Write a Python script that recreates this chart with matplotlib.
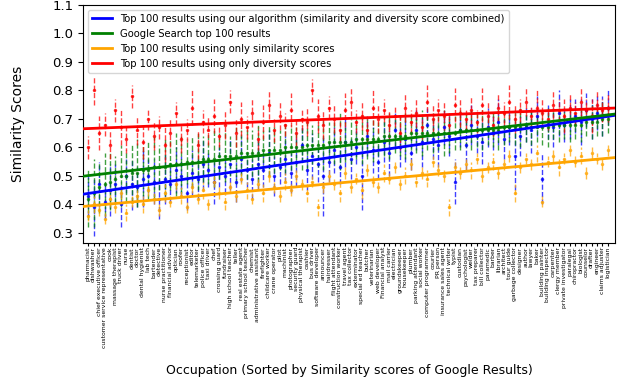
import matplotlib
matplotlib.use("Agg")

import matplotlib.pyplot as plt
import numpy as np

OCCUPATIONS = [
    "pharmacist", "dishwasher", "chief executive officer", "customer service representative",
    "cook", "massage therapist", "truck driver", "nurse", "dentist", "doctor",
    "dental hygienist", "lab tech", "bartender", "detective", "nurse practitioner",
    "financial advisor", "optician", "roofer", "receptionist", "editor",
    "telemarketer", "police officer", "taxi driver", "chef", "crossing guard",
    "fundraiser", "high school teacher", "teller", "real estate agent",
    "primary school teacher", "chemist", "administrative assistant", "firefighter",
    "childcare worker", "crane operator", "pilot", "machinist", "photographer",
    "security guard", "physical therapist", "cashier", "bus driver",
    "software developer", "announcer", "hairdresser", "flight attendant",
    "construction worker", "travel agent", "tax collector", "exterminator",
    "special ed teacher", "butcher", "veterinarian", "web developer",
    "Financial analyst", "mail carrier", "electrician", "groundskeeper",
    "housekeeper", "plumber", "parking attendant", "social worker",
    "computer programmer", "courier", "PR person", "insurance sales agent",
    "technical writer", "typist", "custodian", "psychologist", "welder",
    "tax preparer", "bill collector", "paramedic", "barber", "librarian",
    "architect", "tour guide", "garbage collector", "designer", "author",
    "lawyer", "baker", "building painter", "building inspector", "carpenter",
    "clergy member", "private investigator", "paralegal", "chiropractor",
    "biologist", "counselor", "drafter", "engineer", "claims adjuster",
    "logistician",
]

# mean score per occupation, one list per method
OURS_MEAN = [
    0.43, 0.39, 0.47, 0.41, 0.45, 0.47, 0.40, 0.50, 0.47, 0.46,
    0.49, 0.50, 0.48, 0.42, 0.49, 0.47, 0.52, 0.50, 0.44, 0.51,
    0.49, 0.54, 0.52, 0.48, 0.53, 0.50, 0.54, 0.48, 0.56, 0.52,
    0.49, 0.54, 0.52, 0.58, 0.50, 0.53, 0.56, 0.51, 0.55, 0.61,
    0.52, 0.57, 0.54, 0.50, 0.55, 0.59, 0.53, 0.62, 0.56, 0.60,
    0.50, 0.64, 0.59, 0.55, 0.62, 0.58, 0.66, 0.60, 0.63, 0.58,
    0.66, 0.62, 0.68, 0.63, 0.61, 0.67, 0.64, 0.48, 0.66, 0.61,
    0.68, 0.64, 0.62, 0.67, 0.65, 0.69, 0.63, 0.67, 0.57, 0.64,
    0.68, 0.66, 0.71, 0.49, 0.69, 0.67, 0.72, 0.68, 0.70, 0.71,
    0.69, 0.73, 0.70, 0.72, 0.71, 0.74,
]
OURS_ERR = [
    0.07, 0.10, 0.08, 0.06, 0.09, 0.07, 0.08, 0.06, 0.09, 0.07,
    0.10, 0.06, 0.08, 0.07, 0.09, 0.06, 0.08, 0.07, 0.06, 0.08,
    0.07, 0.09, 0.06, 0.08, 0.07, 0.06, 0.09, 0.07, 0.08, 0.06,
    0.07, 0.09, 0.06, 0.08, 0.07, 0.06, 0.08, 0.07, 0.09, 0.06,
    0.07, 0.08, 0.06, 0.14, 0.07, 0.08, 0.06, 0.09, 0.07, 0.06,
    0.12, 0.07, 0.08, 0.06, 0.07, 0.08, 0.06, 0.07, 0.08, 0.06,
    0.07, 0.09, 0.06, 0.07, 0.08, 0.06, 0.07, 0.08, 0.06, 0.09,
    0.07, 0.06, 0.08, 0.07, 0.06, 0.08, 0.07, 0.06, 0.12, 0.07,
    0.06, 0.08, 0.07, 0.09, 0.06, 0.07, 0.08, 0.06, 0.07, 0.06,
    0.08, 0.06, 0.07, 0.06, 0.07, 0.06,
]

GOOGLE_MEAN = [
    0.42, 0.44, 0.46, 0.47, 0.48, 0.49, 0.50, 0.50, 0.51, 0.51,
    0.52, 0.52, 0.53, 0.53, 0.53, 0.54, 0.54, 0.54, 0.55, 0.55,
    0.55, 0.56, 0.56, 0.56, 0.57, 0.57, 0.57, 0.57, 0.58, 0.58,
    0.58, 0.58, 0.59, 0.59, 0.59, 0.59, 0.60, 0.60, 0.60, 0.60,
    0.61, 0.61, 0.61, 0.61, 0.62, 0.62, 0.62, 0.62, 0.62, 0.63,
    0.63, 0.63, 0.63, 0.63, 0.64, 0.64, 0.64, 0.64, 0.64, 0.65,
    0.65, 0.65, 0.65, 0.65, 0.65, 0.65, 0.65, 0.65, 0.66, 0.66,
    0.66, 0.66, 0.66, 0.66, 0.66, 0.66, 0.67, 0.67, 0.67, 0.67,
    0.67, 0.67, 0.67, 0.67, 0.67, 0.68, 0.68, 0.68, 0.68, 0.68,
    0.68, 0.69, 0.69, 0.69, 0.70, 0.70,
]
GOOGLE_ERR = [
    0.10, 0.12, 0.09, 0.11, 0.10, 0.08, 0.11, 0.09, 0.10, 0.12,
    0.09, 0.10, 0.11, 0.08, 0.10, 0.09, 0.11, 0.10, 0.08, 0.09,
    0.10, 0.08, 0.09, 0.10, 0.08, 0.09, 0.07, 0.10, 0.08, 0.09,
    0.08, 0.10, 0.07, 0.09, 0.08, 0.07, 0.09, 0.08, 0.07, 0.08,
    0.09, 0.07, 0.08, 0.09, 0.07, 0.08, 0.10, 0.07, 0.08, 0.07,
    0.09, 0.07, 0.08, 0.06, 0.07, 0.08, 0.06, 0.07, 0.08, 0.06,
    0.07, 0.08, 0.06, 0.07, 0.06, 0.08, 0.07, 0.06, 0.07, 0.06,
    0.07, 0.06, 0.07, 0.05, 0.06, 0.07, 0.06, 0.05, 0.06, 0.07,
    0.05, 0.06, 0.05, 0.06, 0.07, 0.05, 0.06, 0.05, 0.06, 0.05,
    0.06, 0.05, 0.06, 0.05, 0.06, 0.05,
]

SIM_MEAN = [
    0.36, 0.40, 0.38, 0.35, 0.42, 0.39, 0.44, 0.37, 0.41, 0.43,
    0.40, 0.45, 0.42, 0.38, 0.44, 0.41, 0.47, 0.43, 0.39, 0.46,
    0.42, 0.45, 0.40, 0.48, 0.44, 0.41, 0.46, 0.43, 0.49, 0.45,
    0.42, 0.47, 0.44, 0.50, 0.46, 0.43, 0.48, 0.45, 0.50, 0.47,
    0.44, 0.48, 0.39, 0.46, 0.50, 0.47, 0.44, 0.51, 0.46, 0.49,
    0.45, 0.52, 0.48, 0.46, 0.51, 0.49, 0.53, 0.47, 0.50, 0.54,
    0.48, 0.51, 0.49, 0.55, 0.52, 0.50, 0.39, 0.53, 0.51, 0.54,
    0.52, 0.56, 0.50, 0.53, 0.55, 0.51, 0.54, 0.57, 0.44, 0.53,
    0.56, 0.54, 0.58, 0.41, 0.55, 0.57, 0.53, 0.56, 0.59, 0.55,
    0.57, 0.51, 0.58, 0.56, 0.54, 0.59,
]
SIM_ERR = [
    0.02, 0.03, 0.02, 0.02, 0.03, 0.02, 0.02, 0.03, 0.02, 0.02,
    0.03, 0.02, 0.02, 0.02, 0.03, 0.02, 0.02, 0.03, 0.02, 0.02,
    0.02, 0.03, 0.02, 0.02, 0.02, 0.03, 0.02, 0.02, 0.02, 0.03,
    0.02, 0.02, 0.03, 0.02, 0.02, 0.02, 0.03, 0.02, 0.02, 0.02,
    0.03, 0.02, 0.03, 0.02, 0.02, 0.02, 0.03, 0.02, 0.02, 0.02,
    0.03, 0.02, 0.02, 0.02, 0.03, 0.02, 0.02, 0.02, 0.03, 0.02,
    0.02, 0.02, 0.03, 0.02, 0.02, 0.02, 0.03, 0.02, 0.02, 0.02,
    0.03, 0.02, 0.02, 0.02, 0.03, 0.02, 0.02, 0.02, 0.03, 0.02,
    0.02, 0.02, 0.03, 0.02, 0.02, 0.02, 0.03, 0.02, 0.02, 0.02,
    0.03, 0.02, 0.02, 0.02, 0.02, 0.02,
]

DIV_MEAN = [
    0.60, 0.80, 0.65, 0.68, 0.61, 0.73, 0.67, 0.63, 0.78, 0.66,
    0.62, 0.70, 0.64, 0.67, 0.61, 0.65, 0.72, 0.63, 0.66, 0.74,
    0.61, 0.69, 0.66, 0.71, 0.64, 0.68, 0.76, 0.65, 0.70, 0.67,
    0.72, 0.63, 0.69, 0.75, 0.66, 0.71, 0.68, 0.73, 0.65, 0.70,
    0.69, 0.80, 0.71, 0.68, 0.74, 0.70, 0.66, 0.73, 0.76, 0.69,
    0.71, 0.66, 0.74, 0.70, 0.73, 0.68, 0.71, 0.65, 0.74, 0.69,
    0.72, 0.67, 0.76, 0.70, 0.73, 0.71, 0.68, 0.75, 0.72, 0.70,
    0.73, 0.69, 0.75, 0.71, 0.68, 0.74, 0.72, 0.76, 0.70, 0.73,
    0.76, 0.71, 0.74, 0.72, 0.70, 0.75, 0.73, 0.71, 0.74, 0.72,
    0.76, 0.73, 0.71, 0.75, 0.73, 0.74,
]
DIV_ERR = [
    0.04, 0.05, 0.06, 0.04, 0.05, 0.04, 0.06, 0.05, 0.04, 0.05,
    0.06, 0.04, 0.05, 0.04, 0.06, 0.05, 0.04, 0.05, 0.04, 0.06,
    0.05, 0.04, 0.05, 0.06, 0.04, 0.05, 0.04, 0.05, 0.06, 0.04,
    0.05, 0.04, 0.06, 0.05, 0.04, 0.05, 0.04, 0.06, 0.05, 0.04,
    0.05, 0.04, 0.06, 0.05, 0.04, 0.05, 0.04, 0.06, 0.05, 0.04,
    0.05, 0.04, 0.06, 0.05, 0.04, 0.05, 0.04, 0.06, 0.05, 0.04,
    0.05, 0.04, 0.06, 0.05, 0.04, 0.05, 0.04, 0.06, 0.05, 0.04,
    0.05, 0.04, 0.06, 0.05, 0.04, 0.05, 0.04, 0.06, 0.05, 0.04,
    0.05, 0.04, 0.06, 0.05, 0.04, 0.05, 0.04, 0.06, 0.05, 0.04,
    0.05, 0.04, 0.06, 0.05, 0.04, 0.05,
]

SERIES = [
    ("Top 100 results using our algorithm (similarity and diversity score combined)",
     OURS_MEAN, OURS_ERR, "blue"),
    ("Google Search top 100 results", GOOGLE_MEAN, GOOGLE_ERR, "green"),
    ("Top 100 results using only similarity scores", SIM_MEAN, SIM_ERR, "orange"),
    ("Top 100 results using only diversity scores", DIV_MEAN, DIV_ERR, "red"),
]

XLIM = (-0.9, 96.3)

fig = plt.figure(figsize=(6.4, 3.83), dpi=100)
ax = fig.add_axes([0.13, 0.366, 0.831, 0.621])

x = np.arange(len(OCCUPATIONS))
xfit = np.array(XLIM)

for label, mean, err, color in SERIES:
    eb = ax.errorbar(x, mean, yerr=err, fmt=".", ms=3, color=color,
                     elinewidth=1, alpha=0.75, zorder=2)
    eb[2][0].set_linestyle("--")
    # least-squares trend line for this method
    slope, icpt = np.polyfit(x, mean, 1)
    ax.plot(xfit, slope * xfit + icpt, color=color, lw=2, label=label, zorder=3)

ax.set_xlim(*XLIM)
ax.set_ylim(0.265, 1.1)
ax.set_xticks(x)
ax.set_xticklabels(OCCUPATIONS, rotation=90, fontsize=4.4)
ax.tick_params(axis="x", length=2, pad=1)
ax.tick_params(axis="y", labelsize=9.5)

ax.set_ylabel("Similarity Scores", fontsize=10, labelpad=20)
ax.set_xlabel("Occupation (Sorted by Similarity scores of Google Results)",
              fontsize=9, labelpad=12)
ax.legend(loc="upper left", fontsize=7.2, handlelength=2.0)

fig.savefig("out.png", dpi=100)
